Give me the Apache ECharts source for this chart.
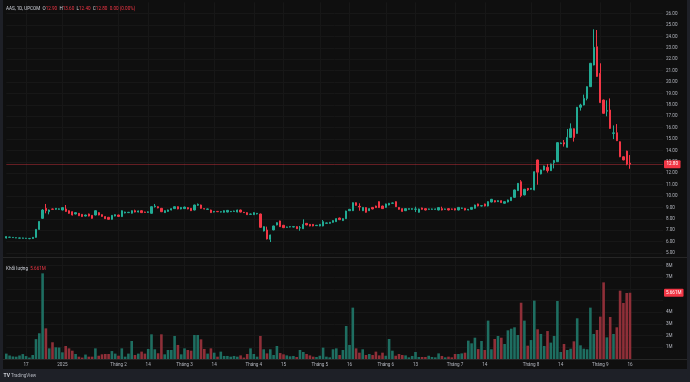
<!DOCTYPE html>
<html>
<head>
<meta charset="utf-8">
<script src="https://cdn.jsdelivr.net/npm/echarts@6/dist/echarts.min.js"></script>
<style>
html,body{margin:0;padding:0;background:#0f0f0f;}
#chart{width:690px;height:382px;}
</style>
</head>
<body>
<div id="chart"></div>
<script>
// ---- categories (trading days) ----
const months = ['2024-12','2025-01','2025-02','2025-03','2025-04','2025-05','2025-06','2025-07','2025-08','2025-09'];
const tradingDays = [
  [9,10,11,12,13,16,17,18,19,20,23,24,25,26,27,30,31],
  [2,3,6,7,8,9,10,13,14,15,16,17,20,21,22,23,24],
  [3,4,5,6,7,10,11,12,13,14,17,18,19,20,21,24,25,26,27,28],
  [3,4,5,6,7,10,11,12,13,14,17,18,19,20,21,24,25,26,27,28,31],
  [1,2,3,4,8,9,10,11,14,15,16,17,18,21,22,23,24,25,28,29],
  [5,6,7,8,9,12,13,14,15,16,19,20,21,22,23,26,27,28,29,30],
  [2,3,4,5,6,9,10,11,12,13,16,17,18,19,20,23,24,25,26,27,30],
  [1,2,3,4,7,8,9,10,11,14,15,16,17,18,21,22,23,24,25,28,29,30,31],
  [1,4,5,6,7,8,11,12,13,14,15,18,19,20,21,22,25,26,27,28,29],
  [3,4,5,8,9,10,11,12,15,16]
];
// ---- time tick labels ----
const tickDates = ['2024-12-17','2025-01-02','2025-02-03','2025-02-14','2025-03-03','2025-03-14','2025-04-01','2025-04-15','2025-05-05','2025-05-16','2025-06-02','2025-06-13','2025-07-01','2025-07-14','2025-08-01','2025-08-14','2025-09-03','2025-09-16'];
const tickLabels = ['17','2025','Tháng 2','14','Tháng 3','14','Tháng 4','15','Tháng 5','16','Tháng 6','13','Tháng 7','14','Tháng 8','14','Tháng 9','16'];

// ---- OHLC ----
const opens = [6.32,6.38,6.36,6.33,6.31,6.30,6.29,6.27,6.28,6.38,7.08,8.05,8.93,8.63,8.87,8.84,8.84,8.78,8.87,8.72,
8.63,8.43,8.49,8.40,8.25,8.43,8.31,8.34,8.55,8.37,8.20,8.14,7.96,8.25,8.34,8.20,8.52,8.55,8.50,8.72,
8.60,8.72,8.60,8.57,8.49,9.07,9.07,8.93,8.55,8.66,8.78,8.90,9.07,8.87,8.90,8.99,8.93,8.78,9.20,9.22,
8.90,8.84,8.78,8.60,8.66,8.60,8.58,8.60,8.63,8.66,8.60,8.78,8.58,8.55,8.40,8.37,8.43,8.43,6.94,7.03,
6.21,7.03,7.47,7.82,7.44,7.26,7.29,7.29,7.32,7.20,7.14,7.61,7.52,7.52,7.41,7.38,7.38,7.61,7.61,7.70,
7.76,8.08,7.85,8.02,8.72,8.72,9.42,9.10,8.72,8.99,8.72,9.01,9.13,9.51,9.13,9.01,9.22,9.37,9.51,9.01,
8.90,8.72,8.84,8.84,8.84,8.58,8.96,8.90,8.84,8.84,8.84,8.78,8.90,8.84,8.90,8.87,8.90,8.78,8.93,8.93,
8.78,8.84,8.93,9.31,9.13,9.31,9.13,9.48,9.60,9.51,9.60,9.37,9.48,9.60,9.89,10.48,11.26,10.10,10.68,10.60,
10.54,13.17,11.94,12.29,12.52,12.23,12.93,13.02,14.60,14.69,14.28,15.15,15.91,15.50,17.79,17.99,18.57,19.60,21.50,23.10,
20.77,18.43,17.45,17.55,15.50,15.56,14.77,13.45,13.95,12.90];
const closes = [6.45,6.40,6.38,6.35,6.33,6.33,6.31,6.29,6.38,7.08,7.78,8.78,8.72,8.78,8.84,8.93,8.88,8.99,8.66,8.49,
8.34,8.55,8.28,8.20,8.34,8.25,8.05,8.72,8.34,8.22,8.02,7.96,8.31,8.37,8.22,8.72,8.60,8.58,8.72,8.60,
8.70,8.55,8.57,8.62,9.07,9.13,8.96,8.63,8.72,8.78,8.90,9.07,8.87,9.01,9.04,8.87,8.72,9.22,9.28,8.93,
8.87,8.87,8.55,8.66,8.63,8.63,8.72,8.75,8.66,8.69,8.78,8.60,8.55,8.37,8.43,8.55,8.49,7.26,7.32,6.24,
6.59,7.38,7.67,7.32,7.23,7.29,7.32,7.32,7.14,7.23,7.52,7.47,7.38,7.38,7.44,7.52,7.76,7.65,7.70,7.85,
8.02,7.93,8.02,8.69,8.84,9.42,9.19,9.04,9.01,8.58,8.90,8.87,8.99,8.99,8.90,9.31,9.37,9.40,9.07,8.84,
8.66,8.90,8.90,8.90,8.87,8.87,8.84,8.78,8.87,8.87,8.87,8.99,8.78,8.87,8.78,8.84,8.78,9.01,8.96,8.78,
8.84,9.01,9.22,9.13,9.16,9.13,9.51,9.72,9.48,9.60,9.43,9.51,9.66,9.89,10.54,11.12,10.04,10.60,10.54,10.68,
12.14,12.10,12.29,12.64,12.23,12.82,13.13,14.69,14.66,14.57,15.15,15.91,15.15,17.79,17.99,18.57,19.60,21.65,23.05,20.50,
18.20,17.26,17.50,15.94,15.55,14.86,13.45,13.17,12.80,12.80];
const lows = [6.28,6.35,6.33,6.31,6.29,6.28,6.26,6.22,6.25,6.35,7.05,8.00,8.49,8.40,8.80,8.80,8.80,8.75,8.62,8.45,
8.30,8.40,8.25,8.17,8.22,8.22,8.02,8.31,8.31,8.19,7.99,7.93,7.93,8.22,8.19,8.17,8.49,8.52,8.47,8.57,
8.57,8.52,8.54,8.54,8.46,9.00,8.93,8.60,8.52,8.63,8.75,8.87,8.84,8.84,8.87,8.84,8.69,8.75,9.15,8.90,
8.84,8.81,8.52,8.57,8.60,8.57,8.55,8.57,8.60,8.63,8.57,8.57,8.52,8.34,8.37,8.34,8.40,7.23,6.90,6.20,
5.97,7.00,7.44,7.29,7.20,7.23,7.26,7.26,7.11,6.96,7.11,7.44,7.35,7.35,7.38,7.35,7.35,7.58,7.58,7.67,
7.73,7.90,7.82,7.99,8.69,8.69,9.16,8.72,8.69,8.55,8.69,8.84,8.96,8.96,8.87,8.98,9.19,9.34,9.04,8.81,
8.63,8.69,8.81,8.81,8.60,8.55,8.81,8.75,8.81,8.81,8.81,8.75,8.75,8.81,8.75,8.81,8.75,8.75,8.87,8.75,
8.75,8.81,8.90,9.10,9.10,9.10,9.10,9.45,9.45,9.48,9.40,9.34,9.45,9.57,9.86,10.45,9.90,10.07,10.45,10.57,
10.51,11.00,11.91,12.26,12.06,12.20,12.43,12.99,14.57,14.34,14.25,15.12,14.78,15.47,17.50,17.96,18.40,19.57,21.47,20.47,
18.17,17.23,17.00,15.91,15.00,14.83,13.42,13.14,12.70,12.40];
const highs = [6.48,6.43,6.40,6.37,6.35,6.35,6.33,6.31,6.40,7.10,7.80,8.85,9.31,8.82,8.90,8.95,8.92,9.02,9.22,8.75,
8.66,8.58,8.52,8.43,8.37,8.46,8.34,8.75,8.58,8.40,8.23,8.17,8.34,8.40,8.37,8.75,8.63,8.61,8.75,8.81,
8.73,8.75,8.63,8.65,9.10,9.31,9.10,8.96,8.75,8.81,8.93,9.10,9.10,9.04,9.07,9.02,8.96,9.25,9.35,9.25,
8.93,8.90,8.81,8.69,8.69,8.66,8.75,8.78,8.69,8.72,8.81,8.81,8.61,8.58,8.46,8.58,8.52,8.46,7.35,7.32,
6.62,7.41,7.70,7.85,7.47,7.32,7.35,7.35,7.35,7.38,7.96,7.64,7.55,7.55,7.47,7.55,7.90,7.68,7.73,7.88,
8.05,8.11,8.05,8.72,8.87,9.45,9.45,9.37,9.04,9.02,8.93,9.04,9.16,9.54,9.16,9.34,9.40,9.43,9.54,9.04,
8.93,8.93,8.93,8.93,9.07,8.90,8.99,8.93,8.90,8.90,8.90,9.02,9.07,8.90,8.93,8.90,8.93,9.04,8.99,8.96,
8.87,9.04,9.25,9.34,9.19,9.34,9.54,9.75,9.63,9.63,9.63,9.54,9.69,9.92,10.57,11.15,11.40,10.63,10.71,10.71,
12.17,13.20,12.32,12.67,12.82,12.85,13.17,14.72,14.70,14.92,15.89,16.38,15.94,17.82,18.10,18.90,19.63,21.68,24.63,24.57,
21.65,18.46,18.40,18.57,16.20,16.32,14.80,13.48,13.98,13.60];
// ---- volume (millions) ----
const volumes = [0.46,0.30,0.22,0.20,0.30,0.42,0.25,0.12,0.34,1.70,2.20,7.32,2.62,0.91,1.43,1.00,0.98,0.57,1.11,0.91,
0.71,0.43,0.20,0.12,0.38,0.20,0.20,0.91,0.28,0.40,0.43,0.43,0.68,0.46,0.28,0.91,0.20,0.46,1.54,0.34,
0.46,0.63,0.46,0.86,2.11,0.83,0.49,2.11,0.40,0.77,0.77,1.97,1.20,0.40,0.91,0.77,0.71,2.05,2.05,1.68,
0.86,0.46,0.91,0.54,0.20,0.63,0.26,0.26,0.20,0.26,0.20,0.31,0.12,0.43,0.91,0.43,0.20,1.97,0.83,0.48,
0.83,0.34,1.11,0.51,0.40,0.31,0.23,0.26,0.17,0.77,0.60,0.43,0.31,0.20,0.17,0.28,0.97,0.20,0.14,0.83,
0.91,0.34,0.77,2.82,1.20,4.39,0.91,0.54,0.83,0.34,0.43,0.34,0.63,0.31,0.54,0.28,1.71,0.71,0.28,0.43,
0.34,0.31,0.14,0.26,0.60,0.17,0.17,0.17,0.28,0.17,0.14,0.48,0.26,0.14,0.20,0.14,0.43,0.43,0.48,0.54,
1.57,1.34,1.82,0.85,1.54,0.77,3.28,0.83,1.71,1.97,1.82,1.28,2.45,2.59,2.71,2.05,4.81,3.28,1.14,1.62,
4.99,2.54,2.14,1.11,2.39,1.40,1.97,4.96,0.60,1.28,0.77,0.88,1.51,3.48,1.17,0.88,0.83,4.39,2.14,2.48,
3.62,6.55,1.85,3.59,2.14,2.71,5.84,4.79,5.64,5.661];

const lastClose = 12.80;
const lastVolume = 5.661;

// ---- build tables ----
const cats = [];
months.forEach((m, i) => tradingDays[i].forEach(d => cats.push(m + '-' + String(d).padStart(2, '0'))));
const padCount = 10;
for (let i = 0; i < padCount; i++) cats.push('pad' + i);
const tickMap = {};
tickDates.forEach((d, i) => { tickMap[d] = tickLabels[i]; });

const UP = '#22ab94', DOWN = '#f23645';
const VUP = '#1e6e61', VDOWN = '#8f2f38';
const candleData = opens.map((o, i) => [o, closes[i], lows[i], highs[i]]);
const volData = volumes.map((v, i) => ({
  value: v,
  itemStyle: { color: closes[i] >= opens[i] ? VUP : VDOWN }
}));

const FONT = 'Roboto, "Noto Sans", sans-serif';
const GRID = '#171717';
const TXT = '#b2b5be';
const FS = 4.6;

const chart = echarts.init(document.getElementById('chart'), null, { renderer: 'canvas' });
chart.setOption({
  animation: false,
  backgroundColor: '#0f0f0f',
  textStyle: { fontFamily: FONT },
  grid: [
    { left: 6.3, width: 656.7, top: 2.3, height: 262.2, containLabel: false },
    { left: 6.3, width: 656.7, top: 253.7, height: 105.3, containLabel: false }
  ],
  xAxis: [
    {
      type: 'category', gridIndex: 0, data: cats, boundaryGap: false,
      axisLine: { show: false }, axisTick: { show: false }, axisLabel: { show: false },
      splitLine: { show: true, interval: (i, v) => v in tickMap, lineStyle: { color: GRID, width: 1 } }
    },
    {
      type: 'category', gridIndex: 1, data: cats, boundaryGap: false,
      axisLine: { show: false }, axisTick: { show: false },
      axisLabel: {
        show: true, interval: (i, v) => v in tickMap, formatter: v => tickMap[v] || '',
        color: TXT, fontSize: FS, margin: 3, fontFamily: FONT
      },
      splitLine: { show: true, interval: (i, v) => v in tickMap, lineStyle: { color: GRID, width: 1 } }
    }
  ],
  yAxis: [
    {
      type: 'value', gridIndex: 0, position: 'right', min: 4, max: 27, interval: 1,
      axisLine: { show: false }, axisTick: { show: false },
      axisLabel: { color: TXT, fontSize: FS, margin: 3, fontFamily: FONT,
        formatter: v => (v < 5 || v > 26) ? '' : v.toFixed(2) },
      splitLine: { show: true, showMinLine: false, showMaxLine: false, lineStyle: { color: GRID, width: 1 } }
    },
    {
      type: 'value', gridIndex: 1, position: 'right', min: 0, max: 9, interval: 1,
      axisLine: { show: false }, axisTick: { show: false },
      axisLabel: { color: TXT, fontSize: FS, margin: 3, fontFamily: FONT,
        formatter: v => (v === 0 || v === 5 || v === 6 || v === 9) ? '' : v + 'M' },
      splitLine: { show: true, showMinLine: false, showMaxLine: false, lineStyle: { color: GRID, width: 1 } }
    }
  ],
  series: [
    {
      type: 'candlestick', xAxisIndex: 0, yAxisIndex: 0, data: candleData,
      barWidth: 1.8,
      itemStyle: { color: UP, color0: DOWN, borderColor: UP, borderColor0: DOWN, borderWidth: 1 },
      markLine: {
        silent: true, symbol: 'none', animation: false,
        data: [{ yAxis: lastClose }],
        lineStyle: { color: 'rgba(242,54,69,0.38)', width: 1, type: 'solid' },
        label: { show: true, position: 'end', formatter: lastClose.toFixed(2), color: '#ffffff',
          backgroundColor: DOWN, fontSize: FS, padding: [1.5, 2.5], distance: 1, fontFamily: FONT, borderRadius: 1 }
      }
    },
    {
      type: 'bar', xAxisIndex: 1, yAxisIndex: 1, data: volData, barWidth: 2.6,
      markLine: {
        silent: true, symbol: 'none', animation: false,
        data: [{ yAxis: lastVolume }],
        lineStyle: { color: 'rgba(0,0,0,0)', width: 1 },
        label: { show: true, position: 'end', formatter: lastVolume + 'M', color: '#ffffff',
          backgroundColor: DOWN, fontSize: FS, padding: [1.5, 2], distance: 1, fontFamily: FONT, borderRadius: 1 }
      }
    }
  ],
  graphic: [
    { type: 'rect', shape: { x: 0, y: 0, width: 3, height: 382 }, style: { fill: '#1e2027' }, z: 10 },
    { type: 'rect', shape: { x: 687, y: 0, width: 3, height: 382 }, style: { fill: '#1e2027' }, z: 10 },
    { type: 'rect', shape: { x: 0, y: 369, width: 690, height: 13 }, style: { fill: '#1e2027' }, z: 10 },
    { type: 'line', shape: { x1: 3, y1: 257.5, x2: 687, y2: 257.5 }, style: { stroke: '#262626', lineWidth: 1 }, z: 10 },
    { type: 'line', shape: { x1: 3, y1: 359.5, x2: 687, y2: 359.5 }, style: { stroke: '#262626', lineWidth: 1 }, z: 10 },
    {
      type: 'text', x: 6, y: 6, z: 10,
      style: {
        text: '{t|AAS, 1D, UPCOM}  {t|O}{v|12.90}  {t|H}{v|13.60}  {t|L}{v|12.40}  {t|C}{v|12.80}  {v|0.00 (0.00%)}',
        font: FS + 'px ' + FONT,
        rich: { t: { fill: '#d1d4dc', fontSize: FS, fontFamily: FONT }, v: { fill: DOWN, fontSize: FS, fontFamily: FONT } }
      }
    },
    {
      type: 'text', x: 6, y: 266.5, z: 10,
      style: {
        text: '{t|Khối lượng}  {v|5.661M}',
        font: FS + 'px ' + FONT,
        rich: { t: { fill: '#d1d4dc', fontSize: FS, fontFamily: FONT }, v: { fill: DOWN, fontSize: FS, fontFamily: FONT } }
      }
    },
    {
      type: 'text', x: 3.5, y: 373, z: 11,
      style: { text: 'TV', fill: '#d1d4dc', font: 'bold 5px ' + FONT }
    },
    {
      type: 'text', x: 11, y: 373.3, z: 11,
      style: { text: 'TradingView', fill: '#b2b5be', font: '4.6px ' + FONT }
    }
  ]
});
</script>
</body>
</html>
